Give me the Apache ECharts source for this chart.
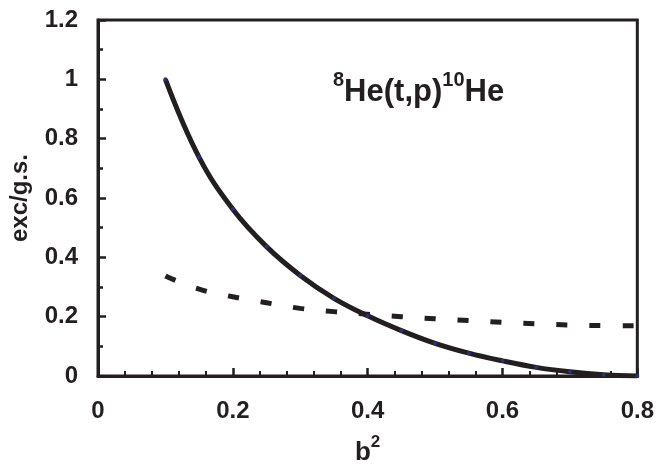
<!DOCTYPE html>
<html>
<head>
<meta charset="utf-8">
<script src="https://cdn.jsdelivr.net/npm/echarts@6/dist/echarts.min.js"></script>
<style>
  html, body { margin: 0; padding: 0; background: #fff; }
  #chart { width: 657px; height: 472px; }
</style>
</head>
<body>
<div id="chart"></div>
<script>
// b^2 values where the curves were sampled
const bSquared = [0.1, 0.15, 0.2, 0.25, 0.3, 0.35, 0.4, 0.45, 0.5, 0.55, 0.6, 0.65, 0.7, 0.75, 0.8]
// solid curve (with small markers)
const solidRatio = [1.0, 0.737, 0.562, 0.436, 0.339, 0.262, 0.203, 0.153, 0.110, 0.077, 0.051, 0.029, 0.014, 0.004, 0.0]
// dashed curve
const dashedRatio = [0.337, 0.293, 0.267, 0.247, 0.228, 0.217, 0.208, 0.200, 0.193, 0.187, 0.181, 0.176, 0.172, 0.170, 0.169]

const ink = '#231f20'
const font = 'Liberation Sans'

const chart = echarts.init(document.getElementById('chart'))

const pairs = (ys) => bSquared.map((x, i) => [x, ys[i]])

const option = {
  backgroundColor: '#fff',
  animation: false,
  grid: {
    left: 96, right: 19, top: 20, bottom: 96,
    show: true,
    borderColor: ink,
    borderWidth: 3,
    backgroundColor: 'transparent'
  },
  xAxis: {
    type: 'value',
    min: 0, max: 0.8, interval: 0.2,
    name: '{b|b}{s|2}',
    nameLocation: 'middle',
    nameGap: 58,
    nameTextStyle: {
      rich: {
        b: { fontFamily: font, fontWeight: 'bold', fontSize: 26, color: ink, verticalAlign: 'bottom', lineHeight: 32 },
        s: { fontFamily: font, fontWeight: 'bold', fontSize: 17, color: ink, verticalAlign: 'top', lineHeight: 18 }
      }
    },
    axisLine: { lineStyle: { color: ink, width: 3 } },
    axisTick: { inside: true, length: 8, lineStyle: { color: ink, width: 2.5 } },
    minorTick: { show: true, splitNumber: 5, length: 5, lineStyle: { color: ink, width: 2 } },
    splitLine: { show: false },
    axisLabel: { fontFamily: font, fontWeight: 'bold', fontSize: 24, color: ink, margin: 23 }
  },
  yAxis: {
    type: 'value',
    min: 0, max: 1.2, interval: 0.2,
    name: 'exc/g.s.',
    nameLocation: 'middle',
    nameGap: 66,
    nameTextStyle: { fontFamily: font, fontWeight: 'bold', fontSize: 24, color: ink },
    axisLine: { lineStyle: { color: ink, width: 3 } },
    axisTick: { inside: true, length: 8, lineStyle: { color: ink, width: 2.5 } },
    minorTick: { show: true, splitNumber: 2, length: 5, lineStyle: { color: ink, width: 2.5 } },
    splitLine: { show: false },
    axisLabel: { fontFamily: font, fontWeight: 'bold', fontSize: 24, color: ink, margin: 20 }
  },
  series: [
    {
      name: 'dashed',
      type: 'line',
      data: pairs(dashedRatio),
      showSymbol: false,
      smooth: true,
      lineStyle: { color: ink, width: 5, type: [11, 22], cap: 'butt' },
      z: 2
    },
    {
      name: 'solid',
      type: 'line',
      data: pairs(solidRatio),
      smooth: 0.4,
      symbol: 'circle',
      symbolSize: 4,
      itemStyle: { color: '#2b2f7f', borderWidth: 0 },
      lineStyle: { color: ink, width: 5 },
      z: 3
    }
  ],
  graphic: [
    {
      type: 'text',
      left: 333,
      top: 70,
      style: {
        text: '{s|8}{m|He(t,p)}{s|10}{m|He}',
        rich: {
          m: { fontFamily: font, fontWeight: 'bold', fontSize: 31, fill: ink, verticalAlign: 'bottom', lineHeight: 38 },
          s: { fontFamily: font, fontWeight: 'bold', fontSize: 20, fill: ink, verticalAlign: 'top', lineHeight: 22 }
        }
      }
    }
  ]
}

chart.setOption(option)

window.addEventListener('resize', () => chart.resize())
</script>
</body>
</html>
